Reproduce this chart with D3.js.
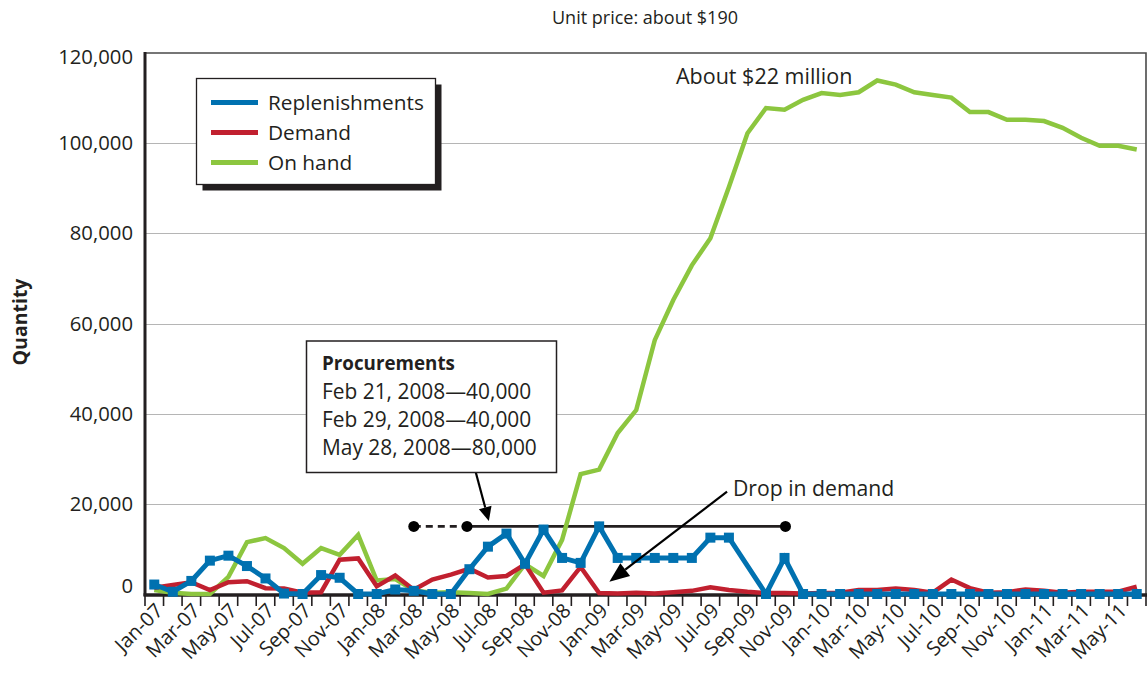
<!DOCTYPE html>
<html>
<head>
<meta charset="utf-8">
<script src="https://cdn.jsdelivr.net/npm/d3@7"></script>
<style>
  html, body { margin: 0; padding: 0; background: #ffffff; }
  svg { display: block; font-family: "Open Sans", "Noto Sans", sans-serif; }
</style>
</head>
<body>
<svg id="chart" width="1148" height="673"></svg>
<script>
// ---------------- DATA ----------------
const months = [
  "Jan-07","Feb-07","Mar-07","Apr-07","May-07","Jun-07","Jul-07","Aug-07","Sep-07","Oct-07","Nov-07","Dec-07",
  "Jan-08","Feb-08","Mar-08","Apr-08","May-08","Jun-08","Jul-08","Aug-08","Sep-08","Oct-08","Nov-08","Dec-08",
  "Jan-09","Feb-09","Mar-09","Apr-09","May-09","Jun-09","Jul-09","Aug-09","Sep-09","Oct-09","Nov-09","Dec-09",
  "Jan-10","Feb-10","Mar-10","Apr-10","May-10","Jun-10","Jul-10","Aug-10","Sep-10","Oct-10","Nov-10","Dec-10",
  "Jan-11","Feb-11","Mar-11","Apr-11","May-11","Jun-11"
];

const replenishments = [
  2100, 500, 2900, 7400, 8500, 6200, 3450, 100, 0, 4200, 3600, 0,
  0, 1000, 700, 0, 0, 5500, 10500, 13400, 6700, 14300, 8000, 6900,
  15000, 8000, 8000, 8000, 8000, 8000, 12500, 12500, null, 0, 8000, 0,
  0, 0, 0, 0, 0, 0, 0, 0, 0, 0, 0, 0,
  0, 0, 0, 0, 0, 0
];

const demand = [
  1400, 2000, 2600, 850, 2600, 2850, 1300, 1200, 300, 400, 7600, 7900,
  1700, 4100, 950, 3200, 4300, 5600, 3650, 4000, 6600, 300, 800, 6000,
  200, 100, 300, 100, 400, 700, 1500, 900, 500, 200, 200, 100,
  200, 300, 900, 900, 1200, 900, 300, 3200, 1300, 300, 400, 1000,
  700, 300, 500, 500, 500, 1600
];

const onHand = [
  900, 300, 0, 0, 3800, 11500, 12400, 10200, 6700, 10200, 8700, 13100,
  3000, 3300, 800, 300, 400, 200, 0, 1200, 6600, 4000, 12000, 26600,
  27600, 35700, 40800, 56300, 65200, 72900, 78900, 90300, 102200, 107800, 107400, 109600,
  111100, 110700, 111300, 113900, 113000, 111300, 110700, 110100, 106900, 106900, 105200, 105200,
  104900, 103400, 101200, 99400, 99400, 98600
];

const yTicks = [0, 20000, 40000, 60000, 80000, 100000, 120000];
const yTickLabels = ["0", "20,000", "40,000", "60,000", "80,000", "100,000", "120,000"];

const seriesNames = ["Replenishments", "Demand", "On hand"];
const seriesColors = ["#0071b0", "#c1202f", "#8cc63f"];

const titleText = "Unit price: about $190";
const yAxisTitle = "Quantity";
const procurementTitle = "Procurements";
const procurementLines = ["Feb 21, 2008\u201440,000", "Feb 29, 2008\u201440,000", "May 28, 2008\u201480,000"];
const peakNote = "About $22 million";
const dropNote = "Drop in demand";

// annotation positions in data units (fractional month index, quantity)
const timelineLevel = 15000;
const timelineDots = [14.0, 16.87, 34.05];
const procArrow = { from: [17.35, 26900], to: [18.05, 16200] };
const dropArrow = { from: [30.9, 22700], to: [24.55, 2700] };

// ---------------- LAYOUT ----------------
const W = 1148, H = 673;
const plot = { left: 145, right: 1146, top: 53, bottom: 594 };
const ink = "#231f20";

const svg = d3.select("#chart");
svg.append("rect").attr("width", W).attr("height", H).attr("fill", "#fff");

const x = d3.scaleBand().domain(months).range([plot.left, plot.right]).paddingInner(0).paddingOuter(0);
const xc = m => x(m) + x.bandwidth() / 2;
const xi = i => plot.left + (i + 0.5) * x.step();
const y = d3.scaleLinear().domain([0, 120000]).range([plot.bottom, plot.top]);

// title
svg.append("text").attr("x", 645).attr("y", 24).attr("text-anchor", "middle")
  .attr("font-size", 18).attr("fill", ink).text(titleText);

// gridlines
svg.append("g").selectAll("line").data(yTicks.filter(v => v > 0 && v < 120000)).join("line")
  .attr("x1", plot.left).attr("x2", plot.right)
  .attr("y1", d => Math.round(y(d)) + 0.5).attr("y2", d => Math.round(y(d)) + 0.5)
  .attr("stroke", "#b5b5b5").attr("stroke-width", 1.2);

// top and right border
svg.append("path")
  .attr("d", `M${plot.left},${plot.top}H${plot.right}V${plot.bottom}`)
  .attr("fill", "none").attr("stroke", "#4a4a4a").attr("stroke-width", 1.6);

// y axis labels
const yLabelShift = { 0: -8, 120000: 4 };
svg.append("g").selectAll("text").data(yTicks).join("text")
  .attr("x", 133).attr("y", d => y(d) + 7 + (yLabelShift[d] || 0))
  .attr("text-anchor", "end").attr("font-size", 20.3).attr("fill", ink)
  .text((d, i) => yTickLabels[i]);

// y axis title
svg.append("text").attr("transform", "translate(27,322) rotate(-90)")
  .attr("text-anchor", "middle").attr("font-size", 19.5).attr("font-weight", "bold")
  .attr("fill", ink).text(yAxisTitle);

// x axis ticks at band boundaries
const boundaries = months.map(m => x(m)).concat([plot.right]);
svg.append("g").selectAll("line").data(boundaries).join("line")
  .attr("x1", d => d).attr("x2", d => d).attr("y1", plot.bottom).attr("y2", 606)
  .attr("stroke", ink).attr("stroke-width", 1.6);

// x labels (every other month)
svg.append("g").selectAll("text").data(months.filter((m, i) => i % 2 === 0)).join("text")
  .attr("transform", d => `translate(${xc(d) + 10},${612}) rotate(-45)`)
  .attr("text-anchor", "end").attr("font-size", 20).attr("fill", ink).text(d => d);

// axis lines
svg.append("line").attr("x1", plot.left).attr("x2", plot.left).attr("y1", plot.top - 1).attr("y2", plot.bottom + 2)
  .attr("stroke", ink).attr("stroke-width", 3);
svg.append("line").attr("x1", plot.left - 1.5).attr("x2", plot.right + 1).attr("y1", plot.bottom + 1).attr("y2", plot.bottom + 1)
  .attr("stroke", ink).attr("stroke-width", 3.5);

// timeline annotation
const tlY = y(timelineLevel);
svg.append("line").attr("x1", xi(timelineDots[0])).attr("x2", xi(timelineDots[1]))
  .attr("y1", tlY).attr("y2", tlY).attr("stroke", ink).attr("stroke-width", 2.6).attr("stroke-dasharray", "7,5");
svg.append("line").attr("x1", xi(timelineDots[1])).attr("x2", xi(timelineDots[2]))
  .attr("y1", tlY).attr("y2", tlY).attr("stroke", ink).attr("stroke-width", 2.6);
svg.append("g").selectAll("circle").data(timelineDots).join("circle")
  .attr("cx", d => xi(d)).attr("cy", tlY).attr("r", 5.5).attr("fill", "#000");

// series lines
const seriesData = [onHand, demand, replenishments];
const seriesIdx = [2, 1, 0];
const seriesWidth = [4.5, 4.5, 5];
seriesData.forEach((vals, k) => {
  const pts = vals.map((v, i) => [i, v]).filter(p => p[1] !== null);
  const line = d3.line().x(p => xc(months[p[0]])).y(p => y(p[1]));
  svg.append("path").datum(pts).attr("d", line)
    .attr("fill", "none").attr("stroke", seriesColors[seriesIdx[k]])
    .attr("stroke-width", seriesWidth[k]).attr("stroke-linejoin", "miter").attr("stroke-miterlimit", 3);
});
// replenishment markers
svg.append("g").selectAll("rect")
  .data(replenishments.map((v, i) => [i, v]).filter(p => p[1] !== null)).join("rect")
  .attr("x", p => xc(months[p[0]]) - 5).attr("y", p => y(p[1]) - 5)
  .attr("width", 10).attr("height", 10).attr("fill", seriesColors[0]);

// arrows
function arrow(a, headLen, headW) {
  const x1 = xi(a.from[0]), y1 = y(a.from[1]), x2 = xi(a.to[0]), y2 = y(a.to[1]);
  const ang = Math.atan2(y2 - y1, x2 - x1);
  const bx = x2 - headLen * Math.cos(ang), by = y2 - headLen * Math.sin(ang);
  svg.append("line").attr("x1", x1).attr("y1", y1).attr("x2", bx).attr("y2", by)
    .attr("stroke", "#000").attr("stroke-width", 2.2);
  const px = -Math.sin(ang) * headW / 2, py = Math.cos(ang) * headW / 2;
  svg.append("path").attr("d", `M${x2},${y2}L${bx + px},${by + py}L${bx - px},${by - py}Z`).attr("fill", "#000");
}
arrow(procArrow, 14, 13);
arrow(dropArrow, 20, 16);

// procurement box
svg.append("rect").attr("x", 306.5).attr("y", 341).attr("width", 250).attr("height", 131.5)
  .attr("fill", "#fff").attr("stroke", ink).attr("stroke-width", 1.5);
svg.append("text").attr("x", 322).attr("y", 370).attr("font-size", 18.8).attr("font-weight", "bold")
  .attr("fill", ink).text(procurementTitle);
svg.append("g").selectAll("text").data(procurementLines).join("text")
  .attr("x", 322).attr("y", (d, i) => 398.5 + i * 28).attr("font-size", 20.9).attr("fill", ink).text(d => d);

// notes
svg.append("text").attr("x", 676).attr("y", 84).attr("font-size", 21.5).attr("fill", ink).text(peakNote);
svg.append("text").attr("x", 733).attr("y", 496).attr("font-size", 21.2).attr("fill", ink).text(dropNote);

// legend
const lg = svg.append("g");
lg.append("rect").attr("x", 202.5).attr("y", 84.5).attr("width", 239).attr("height", 106).attr("fill", ink);
lg.append("rect").attr("x", 196.5).attr("y", 78.5).attr("width", 239).attr("height", 106)
  .attr("fill", "#fff").attr("stroke", ink).attr("stroke-width", 1.3);
seriesNames.forEach((name, i) => {
  const ly = 102.5 + i * 30;
  lg.append("line").attr("x1", 211).attr("x2", 258).attr("y1", ly).attr("y2", ly)
    .attr("stroke", seriesColors[i]).attr("stroke-width", 5);
  lg.append("text").attr("x", 268).attr("y", ly + 7.5).attr("font-size", 20.8).attr("fill", ink).text(name);
});
</script>
</body>
</html>
